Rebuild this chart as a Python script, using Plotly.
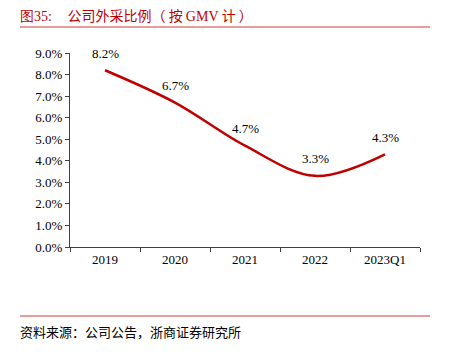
import plotly.graph_objects as go

categories = ["2019", "2020", "2021", "2022", "2023Q1"]
values = [8.2, 6.7, 4.7, 3.3, 4.3]
labels = ["8.2%", "6.7%", "4.7%", "3.3%", "4.3%"]
yticks = [0, 1, 2, 3, 4, 5, 6, 7, 8, 9]
yticklabels = [f"{v:.1f}%" for v in yticks]

serif = "Times New Roman, Liberation Serif, serif"
cjk = "Noto Sans CJK SC"

fig = go.Figure()
fig.add_trace(go.Scatter(
    x=categories, y=values, mode="lines",
    line=dict(color="#c00000", width=2.5, shape="spline", smoothing=1),
    hoverinfo="skip"
))

L, R, T, B = 70, 30, 53, 108
W, H = 450, 355
pw, ph = W - L - R, H - T - B

def px(x):
    return (x - L) / pw

def py(y):
    return (H - B - y) / ph

nb = "\u00a0"
annotations = [
    dict(x=i, y=v, xref="x", yref="y", text=t, showarrow=False, yshift=17,
         xanchor="center", yanchor="middle",
         font=dict(family=serif, size=13, color="#000000"))
    for i, (v, t) in enumerate(zip(values, labels))
]
annotations += [
    dict(xref="paper", yref="paper", x=px(18), y=py(15), xanchor="left", yanchor="middle",
         showarrow=False,
         text=("<span style='font-family:Times New Roman, Liberation Serif, serif'>图35:</span>"
               + nb * 5 + "公司外采比例（" + nb + "按" + nb
               + "<span style='font-family:Times New Roman, Liberation Serif, serif'>GMV</span>"
               + nb + "计" + nb + "）"),
         font=dict(family=cjk, size=14, color="#c00000")),
    dict(xref="paper", yref="paper", x=px(18), y=py(331), xanchor="left", yanchor="middle",
         showarrow=False, text="资料来源：公司公告，浙商证券研究所",
         font=dict(family=cjk, size=13, color="#000000")),
]

fig.update_layout(
    width=W, height=H,
    margin=dict(l=L, r=R, t=T, b=B),
    paper_bgcolor="white", plot_bgcolor="white",
    showlegend=False,
    xaxis=dict(
        type="category", showgrid=False, showline=True, linecolor="#404040", linewidth=1,
        ticks="outside", ticklen=4, tickcolor="#404040", tickson="boundaries",
        tickfont=dict(family=serif, size=13, color="#000000"),
        range=[-0.5, 4.5], fixedrange=True,
    ),
    yaxis=dict(
        range=[0, 9], tickvals=yticks, ticktext=yticklabels, showgrid=False,
        showline=True, linecolor="#404040", linewidth=1,
        ticks="outside", ticklen=4, tickcolor="#404040",
        tickfont=dict(family=serif, size=13, color="#000000"),
        zeroline=False, fixedrange=True,
    ),
    shapes=[
        dict(type="line", xref="paper", yref="paper", x0=px(20), x1=px(430),
             y0=py(27), y1=py(27), line=dict(color="#e07b7b", width=1.5)),
        dict(type="line", xref="paper", yref="paper", x0=px(20), x1=px(430),
             y0=py(316), y1=py(316), line=dict(color="#e07b7b", width=1.5)),
    ],
    annotations=annotations,
)

fig.write_html("out.html", config={"displayModeBar": False},
               post_script="document.body.style.margin='0';")
